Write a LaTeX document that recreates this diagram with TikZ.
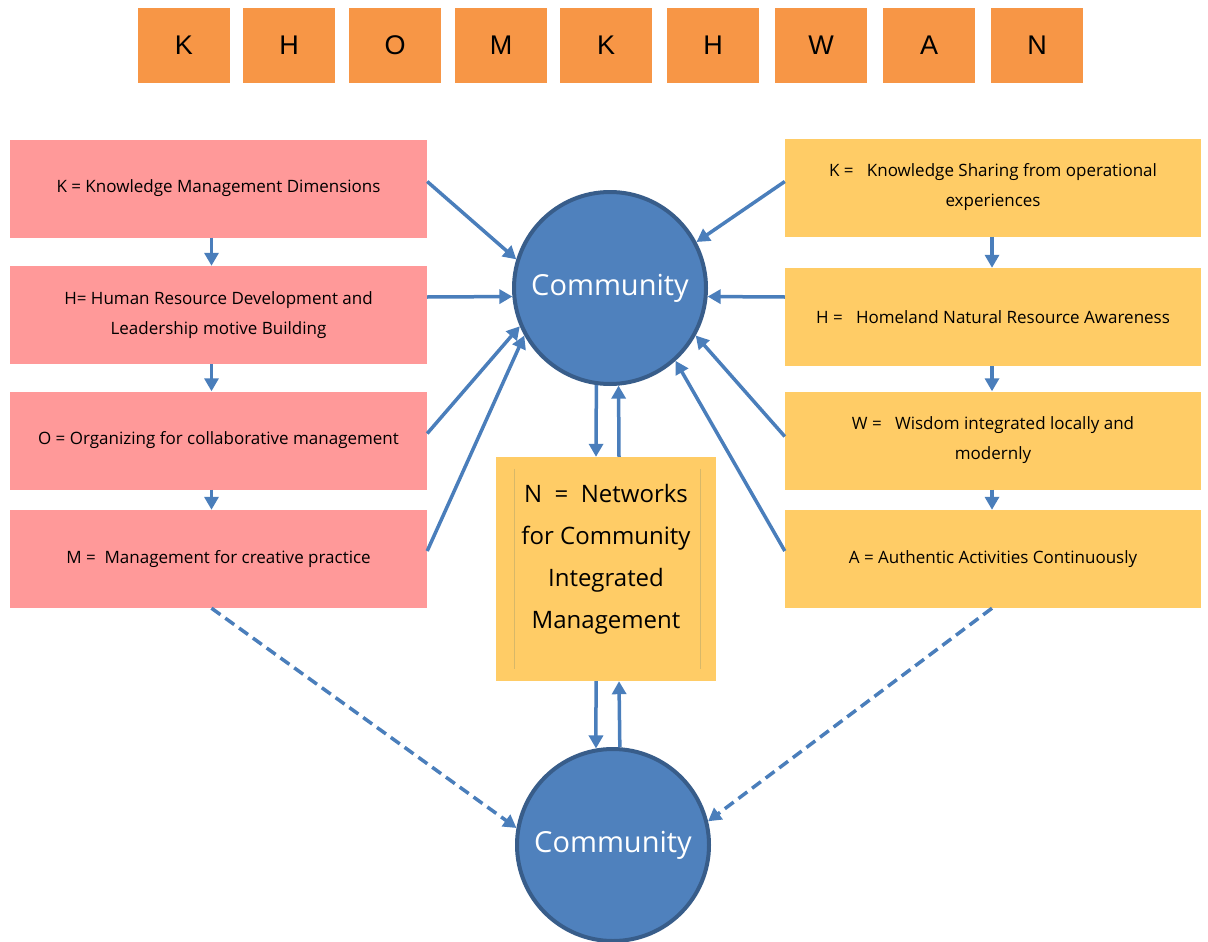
\documentclass[tikz,border=0pt]{standalone}
\usepackage{fontspec}
\setmainfont{Open Sans}
\newfontfamily\letterfont{Liberation Sans}
\usetikzlibrary{arrows.meta,calc}
\definecolor{orangebox}{HTML}{F79646}
\definecolor{pinkbox}{HTML}{FF9999}
\definecolor{yellowbox}{HTML}{FFCC66}
\definecolor{circfill}{HTML}{4F81BD}
\definecolor{circline}{HTML}{385D8A}
\definecolor{arrowcol}{HTML}{4A7EBB}
\definecolor{innerline}{HTML}{D8B868}
\begin{document}
\begin{tikzpicture}[x=1pt,y=-1pt,
  letterbox/.style={fill=orangebox,minimum width=92pt,minimum height=75pt,inner sep=0pt,font=\letterfont\fontsize{27}{30}\selectfont},
  pinkrow/.style={fill=pinkbox,minimum width=417pt,minimum height=98pt,inner sep=0pt,align=center,font=\fontsize{17}{30}\selectfont},
  yellowrow/.style={fill=yellowbox,minimum width=416pt,minimum height=98pt,inner sep=0pt,align=center,font=\fontsize{17}{30}\selectfont},
  commcircle/.style={circle,fill=circfill,draw=circline,line width=4pt,minimum size=192pt,inner sep=0pt,text=white,font=\fontsize{29}{32}\selectfont},
  flow/.style={draw=arrowcol,line width=3.5pt,-{Triangle[width=14pt,length=13pt]}},
  dashedflow/.style={flow,dashed,dash pattern=on 11pt off 6pt}
]
\useasboundingbox (0,0) rectangle (1208,942);
% top letters
\foreach \l/\x [count=\i] in {K/184,H/289,O/395,M/501,K/606,H/713,W/821,A/929,N/1037}
  \node[letterbox] (t\i) at (\x,45.5) {\l};
% left boxes
\node[pinkrow] (lk) at (218.5,188.5) {K = Knowledge Management Dimensions};
\node[pinkrow] (lh) at (218.5,315) {H= Human Resource Development and\\Leadership motive Building};
\node[pinkrow] (lo) at (218.5,440.5) {O = Organizing for collaborative management};
\node[pinkrow] (lm) at (218.5,559) {M =\ \ Management for creative practice};
% right boxes
\node[yellowrow] (rk) at (993,187.5) {K =\ \ \ Knowledge Sharing from operational\\experiences};
\node[yellowrow] (rh) at (993,317) {H =\ \ \ Homeland Natural Resource Awareness};
\node[yellowrow] (rw) at (993,440.5) {W =\ \ \ Wisdom integrated locally and\\modernly};
\node[yellowrow] (ra) at (993,559) {A = Authentic Activities Continuously};
% N box
\node[fill=yellowbox,minimum width=220pt,minimum height=224pt,inner sep=0pt] (n) at (606,569) {};
\node[align=center,font=\fontsize{24}{42}\selectfont,anchor=north] (ntext) at (606,481) {N\ \ =\ \ Networks\\for Community\\Integrated\\Management};
\draw[innerline,line width=0.8pt] ($(n.north west)+(19,12)$) -- ($(n.south west)+(19,-12)$);
\draw[innerline,line width=0.8pt] ($(n.north east)+(-16,12)$) -- ($(n.south east)+(-16,-12)$);
% circles
\node[commcircle] (c1) at (610,288) {Community};
\node[commcircle] (c2) at (613,845) {Community};
% left arrows into top circle
\draw[flow] ($(lk.east)+(0,-7)$) -- (c1.163);
\draw[flow] ($(lh.east)+(0,-18)$) -- (c1.185);
\draw[flow] ($(lo.east)+(0,-7)$) -- (c1.203);
\draw[flow] ($(lm.east)+(0,-8)$) -- (c1.209);
% right arrows into top circle
\draw[flow] ($(rk.west)+(0,-6)$) -- (c1.28);
\draw[flow] ($(rh.west)+(0,-20)$) -- (c1.355);
\draw[flow] ($(rw.west)+(0,-4)$) -- (c1.331);
\draw[flow] ($(ra.west)+(0,-8)$) -- (c1.312);
% vertical arrows between left boxes
\draw[flow] ($(lk.south)+(-7,0)$) -- ($(lh.north)+(-7,0)$);
\draw[flow] ($(lh.south)+(-7,0)$) -- ($(lo.north)+(-7,0)$);
\draw[flow] ($(lo.south)+(-7,0)$) -- ($(lm.north)+(-7,0)$);
% vertical arrows between right boxes
\draw[flow] ($(rk.south)+(-1,0)$) -- ($(rh.north)+(-1,0)$);
\draw[flow] ($(rh.south)+(-1,0)$) -- ($(rw.north)+(-1,0)$);
\draw[flow] ($(rw.south)+(-1,0)$) -- ($(ra.north)+(-1,0)$);
% circle <-> N
\draw[flow] (c1.262) -- ($(n.north)+(-10,0)$);
\draw[flow] ($(n.north)+(13,0)$) -- (c1.275);
\draw[flow] ($(n.south)+(-10,0)$) -- (c2.100);
\draw[flow] (c2.86) -- ($(n.south)+(13,0)$);
% dashed
\draw[dashedflow] ($(lm.south)+(-7,0)$) -- (c2.170);
\draw[dashedflow] ($(ra.south)+(-1,0)$) -- (c2.14);
\end{tikzpicture}
\end{document}
